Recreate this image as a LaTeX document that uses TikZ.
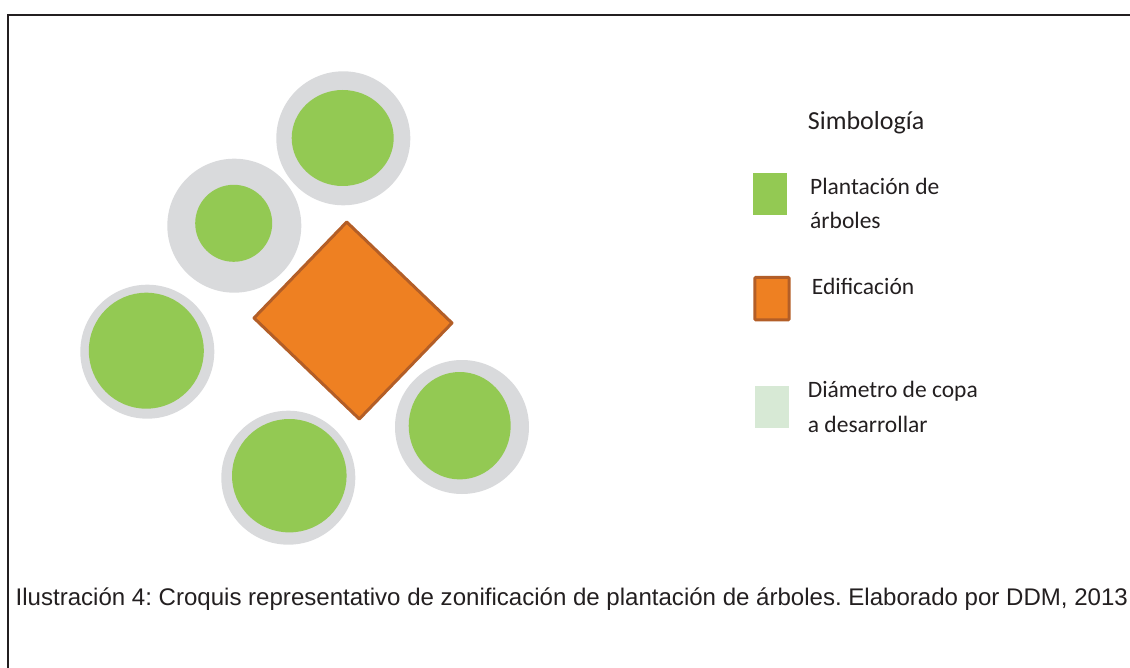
\documentclass[tikz,border=0pt]{standalone}
\usepackage{fontspec}
\setmainfont{Carlito}
\newfontfamily\capfont{Liberation Sans}
\frenchspacing
\definecolor{treegreen}{HTML}{93C953}
\definecolor{canopygray}{HTML}{D9DADC}
\definecolor{buildorange}{HTML}{EE8022}
\definecolor{buildedge}{HTML}{B35E27}
\definecolor{palegreen}{HTML}{D7E9D5}
\definecolor{txt}{HTML}{231F20}
\tikzset{
  canopy/.style={fill=canopygray, draw=none},
  tree/.style={fill=treegreen, draw=none},
  legtext/.style={anchor=base west, inner sep=0pt, text=txt, font=\fontsize{23.5}{28}\selectfont},
}
\begin{document}
\begin{tikzpicture}[x=1pt,y=-1pt]
\useasboundingbox (0,0) rectangle (1130,668);
% frame
\draw[line width=2pt, draw=txt] (8,668) -- (8,15) -- (1131,15);
% canopies
\fill[canopy] (343.3,138.3) circle (67);
\fill[tree] (342.7,138) ellipse [x radius=51, y radius=48];
\fill[canopy] (234.3,225.7) circle (67);
\fill[tree] (233.7,223.3) circle (38.5);
\fill[canopy] (147.3,351.7) circle (67);
\fill[tree] (146.3,350.7) ellipse [x radius=57.5, y radius=58];
\fill[canopy] (288.3,477.7) circle (67);
\fill[tree] (289.3,475.7) ellipse [x radius=57.3, y radius=56.7];
\fill[canopy] (462,427) circle (67);
\fill[tree] (459.7,425.7) ellipse [x radius=51, y radius=53.7];
% building
\draw[fill=buildorange, draw=buildedge, line width=3pt, line join=round]
  (346.7,222) -- (452,323) -- (359.3,419) -- (254,318) -- cycle;
% legend
\node[anchor=base west, inner sep=0pt, text=txt, font=\fontsize{26}{30}\selectfont] (title) at (807.7,130) {Simbología};
\fill[treegreen] (753,172.7) rectangle (787,215);
\node[legtext] (l1a) at (810,194.3) {Plantación de};
\node[legtext] (l1b) at (810,228.3) {árboles};
\draw[fill=buildorange, draw=buildedge, line width=3pt, rounded corners=1pt] (754.8,277.5) rectangle (789.2,319.8);
\node[legtext] (l2) at (811.7,294.3) {Edificación};
\fill[palegreen] (755,385.7) rectangle (789,427.7);
\node[legtext] (l3a) at (807.7,397.7) {Diámetro de copa};
\node[legtext] (l3b) at (807.7,432.3) {a desarrollar};
% caption
\node[anchor=base west, inner sep=0pt, text=txt, font=\capfont\fontsize{24.05}{28}\selectfont] (cap) at (15.5,605)
  {Ilustración 4: Croquis representativo de zonificación de plantación de árboles. Elaborado por DDM, 2013};
\end{tikzpicture}
\end{document}
